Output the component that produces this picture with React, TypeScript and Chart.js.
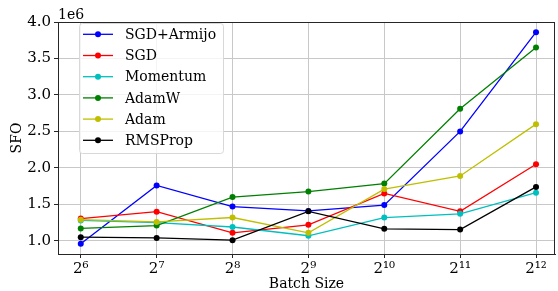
import React, { useEffect, useRef } from "react";
import { Chart, registerables } from "chart.js";

Chart.register(...registerables);

const exponents = [6, 7, 8, 9, 10, 11, 12];
const seriesNames = ["SGD+Armijo", "SGD", "Momentum", "AdamW", "Adam", "RMSProp"];
const seriesColors = ["#0000ff", "#ff0000", "#00bfbf", "#008000", "#bfbf00", "#000000"];

const sgdArmijo = [0.96e6, 1.76e6, 1.47e6, 1.41e6, 1.49e6, 2.5e6, 3.86e6];
const sgd = [1.305e6, 1.4e6, 1.11e6, 1.22e6, 1.65e6, 1.405e6, 2.05e6];
const momentum = [1.28e6, 1.25e6, 1.19e6, 1.07e6, 1.32e6, 1.37e6, 1.66e6];
const adamW = [1.17e6, 1.21e6, 1.6e6, 1.675e6, 1.785e6, 2.81e6, 3.65e6];
const adam = [1.29e6, 1.26e6, 1.32e6, 1.11e6, 1.71e6, 1.89e6, 2.6e6];
const rmsProp = [1.05e6, 1.04e6, 1.01e6, 1.405e6, 1.165e6, 1.155e6, 1.74e6];

const seriesValues = [sgdArmijo, sgd, momentum, adamW, adam, rmsProp];
const yTicks = [1.0e6, 1.5e6, 2.0e6, 2.5e6, 3.0e6, 3.5e6, 4.0e6];

const SUP: Record<string, string> = {
  "0": "\u2070", "1": "\u00b9", "2": "\u00b2", "3": "\u00b3", "4": "\u2074",
  "5": "\u2075", "6": "\u2076", "7": "\u2077", "8": "\u2078", "9": "\u2079",
};
const FONT = "'DejaVu Serif', serif";

export default function App() {
  const ref = useRef<HTMLCanvasElement | null>(null);
  useEffect(() => {
    if (!ref.current) return;
    const framePlugin = {
      id: "frame",
      afterDraw(chart: any) {
        const { ctx, chartArea: a } = chart;
        ctx.save();
        ctx.strokeStyle = "#262626";
        ctx.lineWidth = 1;
        ctx.strokeRect(a.left + 0.5, a.top + 0.5, a.right - a.left - 1, a.bottom - a.top);
        // offset text
        ctx.fillStyle = "#000";
        ctx.font = `14px ${FONT}`;
        ctx.textBaseline = "middle";
        ctx.textAlign = "left";
        ctx.fillText("1e6", 58, 15);
        // legend
        const bx = 79, by = 23, bw = 144, bh = 130, r = 3;
        ctx.globalAlpha = 0.8;
        ctx.fillStyle = "#ffffff";
        ctx.beginPath();
        ctx.roundRect(bx + 0.5, by + 0.5, bw, bh, r);
        ctx.fill();
        ctx.globalAlpha = 1;
        ctx.strokeStyle = "#d8d8d8";
        ctx.stroke();
        seriesNames.forEach((name, i) => {
          const y = 34.3 + i * 21.2;
          ctx.strokeStyle = seriesColors[i];
          ctx.lineWidth = 1.3;
          ctx.beginPath();
          ctx.moveTo(83, y);
          ctx.lineTo(113, y);
          ctx.stroke();
          ctx.fillStyle = seriesColors[i];
          ctx.beginPath();
          ctx.arc(98, y, 3, 0, Math.PI * 2);
          ctx.fill();
          ctx.fillStyle = "#000";
          ctx.font = `14px ${FONT}`;
          ctx.textBaseline = "middle";
          ctx.fillText(name, 125, y + 1);
        });
        ctx.restore();
      },
    };
    const chart = new Chart(ref.current, {
      type: "line",
      data: {
        datasets: seriesNames.map((name, i) => ({
          label: name,
          data: exponents.map((e, j) => ({ x: e, y: seriesValues[i][j] })),
          borderColor: seriesColors[i],
          backgroundColor: seriesColors[i],
          borderWidth: 1.3,
          pointRadius: 3,
          pointBorderWidth: 0,
          pointHoverRadius: 3,
          tension: 0,
          order: seriesNames.length - 1 - i,
        })),
      },
      options: {
        animation: false,
        responsive: false,
        events: [],
        layout: { padding: { top: 22, left: 0, right: 0, bottom: 0 } },
        plugins: { legend: { display: false }, tooltip: { enabled: false } },
        scales: {
          x: {
            type: "linear",
            min: 5.7,
            max: 12.25,
            afterBuildTicks: (s: any) => {
              s.ticks = exponents.map((v) => ({ value: v }));
            },
            afterFit: (s: any) => {
              s.height = 37;
            },
            ticks: {
              autoSkip: false,
              maxRotation: 0,
              padding: 2,
              color: "#000",
              font: { family: FONT, size: 15 },
              callback: (v: any) =>
                "2" + String(v).split("").map((c) => SUP[c] || c).join(""),
            },
            grid: { color: "#c8c8c8", lineWidth: 1, tickColor: "#262626", tickLength: 4 },
            border: { color: "#262626", width: 1 },
            title: {
              display: true,
              text: "Batch Size",
              color: "#000",
              font: { family: FONT, size: 14, lineHeight: 0.9 },
              padding: { top: 0, bottom: 0 },
            },
          },
          y: {
            type: "linear",
            min: 0.82e6,
            max: 4.0e6,
            afterBuildTicks: (s: any) => {
              s.ticks = yTicks.map((v) => ({ value: v }));
            },
            afterFit: (s: any) => {
              s.width = 58;
            },
            ticks: {
              padding: 3,
              color: "#000",
              font: { family: FONT, size: 15 },
              callback: (v: any) => (Number(v) / 1e6).toFixed(1),
            },
            grid: { color: "#c8c8c8", lineWidth: 1, tickColor: "#262626", tickLength: 4 },
            border: { color: "#262626", width: 1 },
            title: {
              display: true,
              text: "SFO",
              color: "#000",
              font: { family: FONT, size: 14 },
              padding: { top: 9, bottom: 0 },
            },
          },
        },
      },
      plugins: [framePlugin],
    });
    return () => chart.destroy();
  }, []);
  return (
    <div style={{ position: "fixed", left: 0, top: 0, width: 558, height: 291, background: "#fff" }}>
      <canvas ref={ref} width={558} height={291} />
    </div>
  );
}
